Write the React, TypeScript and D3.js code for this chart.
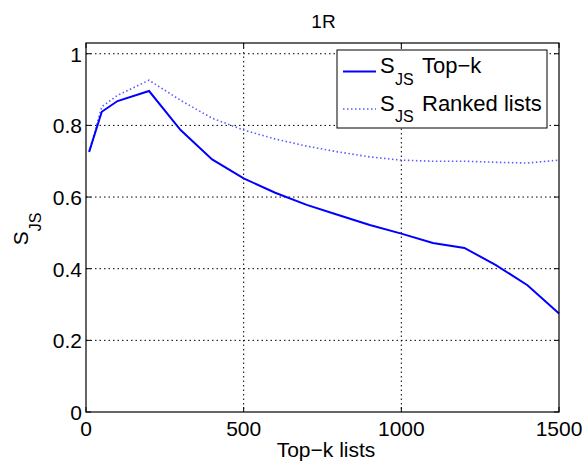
import React, { useEffect, useRef } from 'react';
import * as d3 from 'd3';

const topK = [10, 50, 100, 200, 300, 400, 500, 600, 700, 800, 900, 1000, 1100, 1200, 1300, 1400, 1500];
const sjsTopK = [0.726, 0.838, 0.868, 0.896, 0.787, 0.705, 0.652, 0.612, 0.578, 0.55, 0.522, 0.498, 0.472, 0.458, 0.41, 0.354, 0.275];
const sjsRanked = [0.726, 0.852, 0.884, 0.926, 0.87, 0.82, 0.787, 0.762, 0.742, 0.726, 0.712, 0.703, 0.7, 0.7, 0.697, 0.695, 0.703];
const xTicks = [0, 500, 1000, 1500];
const yTicks = [0, 0.2, 0.4, 0.6, 0.8, 1];
const legendLabels = ['Top\u2212k', 'Ranked lists'];

const App = () => {
    const ref = useRef<SVGSVGElement>(null);

    useEffect(() => {
        const svg = d3.select(ref.current);
        svg.selectAll('*').remove();

        const width = 584;
        const height = 462;
        const left = 86, right = 559, top = 43, bottom = 412;
        const font = "'Liberation Sans', Arial, sans-serif";

        const x = d3.scaleLinear().domain([0, 1500]).range([left, right]);
        const y = d3.scaleLinear().domain([0, 1.03]).range([bottom, top]);

        svg.attr('width', width).attr('height', height);
        svg.append('rect').attr('width', width).attr('height', height).attr('fill', '#fff');

        // Grid (dotted)
        const grid = svg.append('g').attr('stroke', '#000').attr('stroke-width', 1).attr('stroke-dasharray', '1.5,3');
        xTicks.slice(1, -1).forEach(t => {
            grid.append('line').attr('x1', x(t)).attr('x2', x(t)).attr('y1', top).attr('y2', bottom);
        });
        yTicks.slice(1).forEach(t => {
            grid.append('line').attr('x1', left).attr('x2', right).attr('y1', y(t)).attr('y2', y(t));
        });

        // Tick marks, inward on all four sides
        const ticks = svg.append('g').attr('stroke', '#000').attr('stroke-width', 1);
        xTicks.forEach(t => {
            ticks.append('line').attr('x1', x(t)).attr('x2', x(t)).attr('y1', bottom).attr('y2', bottom - 5);
            ticks.append('line').attr('x1', x(t)).attr('x2', x(t)).attr('y1', top).attr('y2', top + 5);
        });
        yTicks.forEach(t => {
            ticks.append('line').attr('x1', left).attr('x2', left + 5).attr('y1', y(t)).attr('y2', y(t));
            ticks.append('line').attr('x1', right).attr('x2', right - 5).attr('y1', y(t)).attr('y2', y(t));
        });

        // Series
        const line = d3.line<number>().x((d, i) => x(topK[i])).y(d => y(d));
        svg.append('path').datum(sjsRanked).attr('d', line).attr('fill', 'none')
            .attr('stroke', '#5b5bff').attr('stroke-width', 1.6).attr('stroke-dasharray', '1.5,2.5');
        svg.append('path').datum(sjsTopK).attr('d', line).attr('fill', 'none')
            .attr('stroke', '#0000ff').attr('stroke-width', 2);

        // Axes box
        svg.append('rect').attr('x', left).attr('y', top).attr('width', right - left).attr('height', bottom - top)
            .attr('fill', 'none').attr('stroke', '#000').attr('stroke-width', 1.2);

        // Tick labels
        xTicks.forEach(t => {
            svg.append('text').attr('x', x(t)).attr('y', bottom + 24).attr('text-anchor', 'middle')
                .attr('font-family', font).attr('font-size', 21).text(t);
        });
        yTicks.forEach(t => {
            svg.append('text').attr('x', left - 4).attr('y', y(t) + 8).attr('text-anchor', 'end')
                .attr('font-family', font).attr('font-size', 21).text(t);
        });

        // Title and axis labels
        svg.append('text').attr('x', 323.5).attr('y', 28).attr('text-anchor', 'middle')
            .attr('font-family', font).attr('font-size', 19).text('1R');
        svg.append('text').attr('x', 326).attr('y', 457).attr('text-anchor', 'middle')
            .attr('font-family', font).attr('font-size', 21).text('Top\u2212k lists');
        const yl = svg.append('text').attr('transform', 'translate(28,229) rotate(-90)').attr('text-anchor', 'middle')
            .attr('font-family', font).attr('font-size', 21);
        yl.append('tspan').text('S');
        yl.append('tspan').attr('font-size', 16).attr('dy', 13).text('JS');

        // Legend
        const lg = svg.append('g');
        lg.append('rect').attr('x', 337).attr('y', 50).attr('width', 210).attr('height', 78)
            .attr('fill', '#fff').attr('stroke', '#000').attr('stroke-width', 1);
        const rowY = [71.5, 109];
        legendLabels.forEach((label, i) => {
            const cy = rowY[i];
            const l = lg.append('line').attr('x1', 343).attr('x2', 376).attr('y1', cy).attr('y2', cy)
                .attr('stroke', i === 0 ? '#0000ff' : '#5b5bff').attr('stroke-width', i === 0 ? 2 : 1.6);
            if (i === 1) l.attr('stroke-dasharray', '1.5,2.5');
            const t = lg.append('text').attr('font-family', font).attr('font-size', 22);
            t.append('tspan').attr('x', 380).attr('y', cy + 1.5).text('S');
            t.append('tspan').attr('x', 395).attr('y', cy + 13).attr('font-size', 16).text('JS');
            t.append('tspan').attr('x', 422).attr('y', cy + 1.5).text(label);
        });
    }, []);

    return <svg ref={ref} style={{ position: 'absolute', left: 0, top: 0 }} />;
};

export default App;
